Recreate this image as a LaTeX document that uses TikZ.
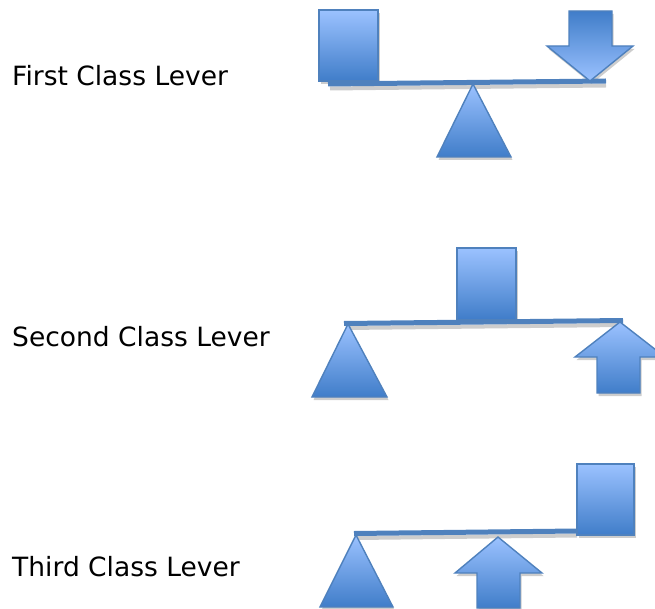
\documentclass[tikz,border=0pt]{standalone}
\usepackage{fontspec}
\setmainfont{DejaVu Sans}
\definecolor{lt}{RGB}{155,194,255}
\definecolor{dk}{RGB}{64,125,201}
\definecolor{edge}{RGB}{79,129,189}
\definecolor{shd}{RGB}{205,205,205}
\tikzset{
  part/.style={draw=edge, line width=1.4pt, line join=miter, top color=lt, bottom color=dk},
  partrev/.style={draw=edge, line width=1.4pt, line join=miter, top color=dk, bottom color=lt},
  shade/.style={fill=shd, draw=none, shift={(1.5,3)}},
  beam/.style={draw=edge, line width=5pt},
  beamshadow/.style={draw=shd, line width=4pt},
  lbl/.style={anchor=base west, inner sep=0pt, font=\fontsize{26.5}{30}\selectfont}
}
\begin{document}
\begin{tikzpicture}[x=1pt,y=-1pt]
\useasboundingbox (0,0) rectangle (655,609);

% labels
\node[lbl] (l1) at (12,86) {First Class Lever};
\node[lbl] (l2) at (12,346) {Second Class Lever};
\node[lbl] (l3) at (12,576) {Third Class Lever};

% ---------- First class lever ----------
\draw[beamshadow] (330,88.5) -- (606,85.5);
\path[shade] (319,10) rectangle (378,81);
\path[shade] (473,84) -- (511,157) -- (437,157) -- cycle;
\path[shade] (569,11) -- (612,11) -- (612,46) -- (633,46) -- (590,81) -- (547,46) -- (569,46) -- cycle;
\draw[beam] (328,84) -- (606,81);
\draw[part] (319,10) rectangle (378,81);
\draw[part] (473,84) -- (511,157) -- (437,157) -- cycle;
\draw[partrev] (569,11) -- (612,11) -- (612,46) -- (633,46) -- (590,81) -- (547,46) -- (569,46) -- cycle;

% ---------- Second class lever ----------
\draw[beamshadow] (346,328) -- (623,325);
\path[shade] (457,248) rectangle (516,319.5);
\path[shade] (348,324) -- (387,397) -- (312,397) -- cycle;
\path[shade] (620,322) -- (665,357) -- (640,357) -- (640,393) -- (597,393) -- (597,357) -- (575,357) -- cycle;
\draw[beam] (344,323.5) -- (623,320.5);
\draw[part] (457,248) rectangle (516,319.5);
\draw[part] (348,324) -- (387,397) -- (312,397) -- cycle;
\draw[part] (620,322) -- (665,357) -- (640,357) -- (640,393) -- (597,393) -- (597,357) -- (575,357) -- cycle;

% ---------- Third class lever ----------
\draw[beamshadow] (356,538) -- (577,535.5);
\path[shade] (577,464) rectangle (634,535);
\path[shade] (356,535) -- (393,607) -- (320,607) -- cycle;
\path[shade] (498,537) -- (542,573) -- (520,573) -- (520,608) -- (477,608) -- (477,573) -- (455,573) -- cycle;
\draw[beam] (354,533.5) -- (577,531);
\draw[part] (577,464) rectangle (634,535);
\draw[part] (356,535) -- (393,607) -- (320,607) -- cycle;
\draw[part] (498,537) -- (542,573) -- (520,573) -- (520,608) -- (477,608) -- (477,573) -- (455,573) -- cycle;
\end{tikzpicture}
\end{document}
